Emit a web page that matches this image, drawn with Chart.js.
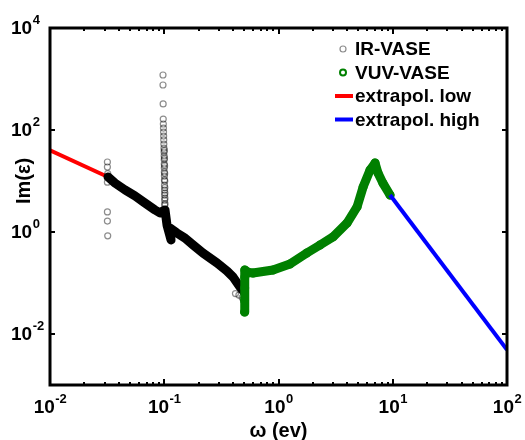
<!DOCTYPE html>
<html>
<head>
<meta charset="utf-8">
<script src="https://cdn.jsdelivr.net/npm/chart.js@4.4.1/dist/chart.umd.min.js"></script>
<style>
  html, body { margin: 0; padding: 0; background: #ffffff; }
  #wrap { width: 525px; height: 440px; }
</style>
</head>
<body>
<div id="wrap"><canvas id="c" width="525" height="440"></canvas></div>
<script>
// Imaginary part of the dielectric function vs photon energy (log-log)

// IR-VASE: dense measured band (drawn as a thick trace)
const irBandX = [0.0322, 0.0371, 0.0453, 0.0554, 0.0678, 0.083, 0.0918, 0.0975,
                 0.1016, 0.1057, 0.1146, 0.112, 0.129, 0.152, 0.179, 0.218,
                 0.29, 0.354, 0.40, 0.46, 0.499];
const irBandY = [12.0, 9.1, 6.7, 5.1, 3.7, 2.7, 2.36, 2.6,
                 2.7, 1.37, 0.70, 1.2, 0.955, 0.76, 0.556, 0.387,
                 0.247, 0.172, 0.131, 0.0835, 0.0667];

// IR-VASE: individual circles (low-energy outliers, phonon spike, tail)
const irPtsX = [0.0318, 0.0318, 0.0320, 0.0318, 0.0318, 0.0318, 0.0320,
                0.0975, 0.0975, 0.0978, 0.0980, 0.0982, 0.0984, 0.0986, 0.0988,
                0.0990, 0.0992, 0.0994, 0.0996, 0.0998, 0.0999, 0.1000, 0.1001,
                0.1002, 0.1003, 0.1004, 0.1005, 0.1006, 0.1007, 0.1008, 0.1009, 0.1010,
                0.1003, 0.1005, 0.1007, 0.1009, 0.1011, 0.1012, 0.1013, 0.1014, 0.1015,
                0.42, 0.45, 0.48, 0.50];
const irPtsY = [23.6, 18.8, 14.0, 9.5, 2.47, 1.64, 0.84,
                1197, 763, 324, 164, 131, 109, 91, 76,
                64, 53, 44, 37, 31, 26, 21.5, 18,
                15, 12.5, 10.5, 8.3, 6.6, 5.3, 4.2, 3.4, 2.7,
                40, 28, 20, 14, 10, 7.4, 5.8, 4.6, 3.6,
                0.062, 0.058, 0.052, 0.048];

// VUV-VASE
const vuvX = [0.505, 0.505, 0.506, 0.507, 0.508, 0.55, 0.598, 0.895, 1.26, 1.77,
              2.31, 3.0, 3.98, 4.87, 5.5, 6.33, 7.0, 7.43, 8.2, 9.47];
const vuvY = [0.027, 0.045, 0.08, 0.13, 0.18, 0.16, 0.157, 0.18, 0.236, 0.387,
              0.556, 0.80, 1.5, 3.1, 7.6, 16.4, 22.5, 14.4, 9.1, 5.3];

// Extrapolations
const lowX = [0.01, 0.0322];
const lowY = [40, 12.0];
const highX = [9.47, 100];
const highY = [5.3, 0.0049];

// Decade tick labels (exponents of 10)
const xTickExps = [-2, -1, 0, 1, 2];
const yTickExps = [4, 2, 0, -2];

const xTitle = 'ω (ev)';
const yTitle = 'Im(ε)';

const FONT = '"Liberation Sans", Arial, sans-serif';
const GREEN = '#008000';

function pts(xs, ys) { return xs.map((x, i) => ({ x: x, y: ys[i] })); }

const legendItems = [
  { label: 'IR-VASE', kind: 'circle', color: 'rgba(0,0,0,0.45)' },
  { label: 'VUV-VASE', kind: 'circle', color: GREEN },
  { label: 'extrapol. low', kind: 'line', color: '#ff0000' },
  { label: 'extrapol. high', kind: 'line', color: '#0000ff' }
];

function drawPow(ctx, x, y, exp, align) {
  // draws "10" with a raised exponent; align: 'center' on x or 'left' from x
  const base = 'bold 19px ' + FONT;
  const sup = 'bold 13px ' + FONT;
  ctx.font = base;
  const w1 = ctx.measureText('10').width;
  ctx.font = sup;
  const es = String(exp);
  const w2 = ctx.measureText(es).width;
  const x0 = align === 'center' ? x - (w1 + w2) / 2 : x;
  ctx.fillStyle = '#000';
  ctx.textAlign = 'left';
  ctx.textBaseline = 'middle';
  ctx.font = base;
  ctx.fillText('10', x0, y);
  ctx.font = sup;
  ctx.fillText(es, x0 + w1 + 0.5, y - 9);
}

const framePlugin = {
  id: 'frameAndLabels',
  afterDraw(chart) {
    const ctx = chart.ctx;
    const a = chart.chartArea;
    const xs = chart.scales.x, ys = chart.scales.y;
    ctx.save();

    // ticks (inward)
    ctx.strokeStyle = '#000';
    ctx.lineWidth = 2;
    for (let e = -2; e < 2; e++) {
      for (let m = 1; m <= 9; m++) {
        const v = m * Math.pow(10, e);
        if (v <= 0.01 || v >= 100) continue;
        const px = Math.round(xs.getPixelForValue(v));
        const len = m === 1 ? 6 : 3;
        ctx.beginPath();
        ctx.moveTo(px, a.bottom); ctx.lineTo(px, a.bottom - len);
        ctx.moveTo(px, a.top); ctx.lineTo(px, a.top + len);
        ctx.stroke();
      }
    }
    for (const e of yTickExps) {
      const py = Math.round(ys.getPixelForValue(Math.pow(10, e)));
      if (py <= a.top + 1) continue;
      ctx.beginPath();
      ctx.moveTo(a.left, py); ctx.lineTo(a.left + 5, py);
      ctx.moveTo(a.right, py); ctx.lineTo(a.right - 5, py);
      ctx.stroke();
    }

    // frame
    ctx.lineWidth = 3;
    ctx.strokeRect(a.left, a.top, a.right - a.left, a.bottom - a.top);

    // tick labels
    for (const e of xTickExps) {
      drawPow(ctx, xs.getPixelForValue(Math.pow(10, e)), a.bottom + 23, e, 'center');
    }
    for (const e of yTickExps) {
      drawPow(ctx, 11, ys.getPixelForValue(Math.pow(10, e)) + 1, e, 'left');
    }

    // axis titles
    ctx.fillStyle = '#000';
    ctx.font = 'bold 20px ' + FONT;
    ctx.textAlign = 'center';
    ctx.textBaseline = 'middle';
    ctx.fillText(xTitle, (a.left + a.right) / 2, 431);
    ctx.save();
    ctx.translate(24, 181);
    ctx.rotate(-Math.PI / 2);
    ctx.fillText(yTitle, 0, 0);
    ctx.restore();

    // legend
    const tx = a.right - 152;
    let ty = a.top + 21;
    ctx.font = 'bold 19px ' + FONT;
    ctx.textAlign = 'left';
    ctx.textBaseline = 'middle';
    for (const it of legendItems) {
      if (it.kind === 'circle') {
        ctx.beginPath();
        ctx.arc(tx - 12, ty, 3, 0, Math.PI * 2);
        ctx.lineWidth = it.color === GREEN ? 2 : 1.2;
        ctx.strokeStyle = it.color;
        ctx.stroke();
      } else {
        ctx.beginPath();
        ctx.moveTo(tx - 20, ty); ctx.lineTo(tx - 2, ty);
        ctx.lineWidth = 4;
        ctx.strokeStyle = it.color;
        ctx.stroke();
      }
      ctx.fillStyle = '#000';
      ctx.fillText(it.label, tx, ty + 1);
      ty += 23.5;
    }
    ctx.restore();
  }
};

new Chart(document.getElementById('c'), {
  type: 'scatter',
  data: {
    datasets: [
      {
        label: 'extrapol. high', data: pts(highX, highY), order: 0,
        showLine: true, borderColor: '#0000ff', borderWidth: 4, pointRadius: 0,
        borderCapStyle: 'butt'
      },
      {
        label: 'VUV-VASE', data: pts(vuvX, vuvY), order: 1,
        showLine: true, borderColor: GREEN, borderWidth: 9, borderJoinStyle: 'round',
        borderCapStyle: 'round', pointRadius: 3.5, pointBorderWidth: 2,
        pointBorderColor: GREEN, pointBackgroundColor: 'rgba(0,0,0,0)'
      },
      {
        label: 'IR-VASE', data: pts(irPtsX, irPtsY), order: 2,
        showLine: false, pointRadius: 3, pointBorderWidth: 1.2,
        pointBorderColor: 'rgba(0,0,0,0.45)', pointBackgroundColor: 'rgba(0,0,0,0)'
      },
      {
        label: 'IR-VASE band', data: pts(irBandX, irBandY), order: 3,
        showLine: true, borderColor: '#000', borderWidth: 9, borderJoinStyle: 'round',
        borderCapStyle: 'round', pointRadius: 0
      },
      {
        label: 'extrapol. low', data: pts(lowX, lowY), order: 4,
        showLine: true, borderColor: '#ff0000', borderWidth: 4, pointRadius: 0
      }
    ]
  },
  options: {
    responsive: false,
    animation: false,
    devicePixelRatio: 1,
    layout: { padding: { left: 50, top: 28, right: 18, bottom: 55 } },
    plugins: { legend: { display: false }, tooltip: { enabled: false } },
    scales: {
      x: { type: 'logarithmic', min: 0.01, max: 100, display: false },
      y: { type: 'logarithmic', min: 0.001, max: 10000, display: false }
    }
  },
  plugins: [framePlugin]
});
</script>
</body>
</html>
